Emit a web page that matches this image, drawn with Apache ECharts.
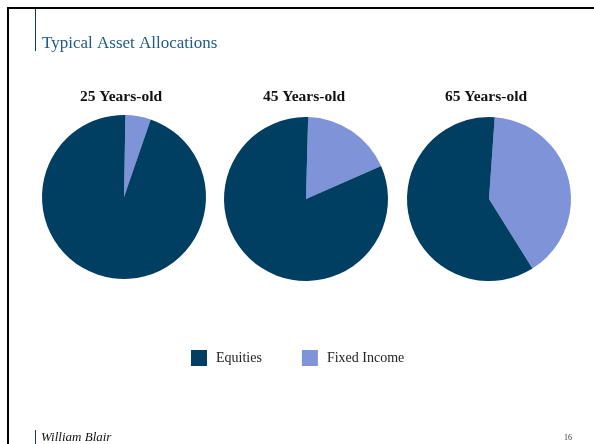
<!DOCTYPE html>
<html>
<head>
<meta charset="utf-8">
<script src="https://cdn.jsdelivr.net/npm/echarts@6/dist/echarts.min.js"></script>
<style>
  html, body { margin: 0; padding: 0; background: #fff; }
  #main { width: 594px; height: 444px; }
</style>
</head>
<body>
<div id="main"></div>
<script>
// data (percent of portfolio)
var ages = ['25 Years-old', '45 Years-old', '65 Years-old'];
var assetNames = ['Fixed Income', 'Equities'];
var fixedIncome = [5, 18, 40];
var equities = [95, 82, 60];

var colors = { 'Equities': '#003f62', 'Fixed Income': '#7f93d9' };
var centers = [[124, 197], [306, 199], [489, 199]];
var titleX = [122, 305, 487];
var starts = [89, 88.5, 86];

var myChart = echarts.init(document.getElementById('main'));

var titles = [];
var series = [];
for (let i = 0; i < ages.length; i++) {
    titles.push({
        text: ages[i],
        left: titleX[i] - 6,
        top: 84,
        textAlign: 'center',
        textStyle: { fontFamily: 'Liberation Serif', fontWeight: 'bold', fontSize: 15.5, color: '#111' }
    });
    series.push({
        type: 'pie',
        center: centers[i],
        radius: 82,
        startAngle: starts[i],
        clockwise: true,
        label: { show: false },
        labelLine: { show: false },
        emphasis: { scale: false },
        data: [
            { name: assetNames[0], value: fixedIncome[i], itemStyle: { color: colors['Fixed Income'] } },
            { name: assetNames[1], value: equities[i], itemStyle: { color: colors['Equities'] } }
        ]
    });
}

var option = {
    animation: false,
    title: titles,
    legend: {
        data: ['Equities', 'Fixed Income'],
        left: 186,
        top: 345,
        icon: 'rect',
        itemWidth: 16,
        itemHeight: 16,
        itemGap: 40,
        textStyle: { fontFamily: 'Liberation Serif', fontSize: 14, color: '#222', padding: [0, 0, 0, 4] }
    },
    graphic: [
        // slide frame
        { type: 'rect', shape: { x: 7, y: 7, width: 590, height: 2 }, style: { fill: '#000' } },
        { type: 'rect', shape: { x: 7, y: 7, width: 2, height: 440 }, style: { fill: '#000' } },
        // heading accent line
        { type: 'rect', shape: { x: 35, y: 9, width: 1, height: 42 }, style: { fill: '#0c3a5e' } },
        {
            type: 'text', left: 42, top: 35,
            style: { text: 'Typical Asset Allocations', font: '17px "Liberation Serif"', fill: '#1f5a86' }
        },
        // footer
        { type: 'rect', shape: { x: 35, y: 430, width: 1, height: 14 }, style: { fill: '#0c3a5e' } },
        {
            type: 'text', left: 41, top: 431,
            style: { text: 'William Blair', font: 'italic 13px "Liberation Serif"', fill: '#111' }
        },
        {
            type: 'text', left: 564, top: 434,
            style: { text: '16', font: '8px "Liberation Serif"', fill: '#333' }
        }
    ],
    series: series
};
myChart.setOption(option);
</script>
</body>
</html>
